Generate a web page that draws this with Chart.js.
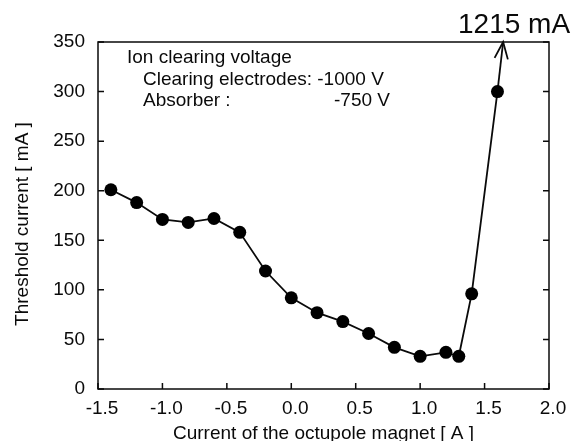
<!DOCTYPE html>
<html>
<head>
<meta charset="utf-8">
<script src="https://cdn.jsdelivr.net/npm/chart.js@4.4.0/dist/chart.umd.min.js"></script>
<style>
html, body { margin: 0; padding: 0; background: #fff; }
canvas { display: block; }
</style>
</head>
<body>
<canvas id="chart" width="576" height="441"></canvas>
<script>
'use strict';

const magnet_current = [-1.4, -1.2, -1.0, -0.8, -0.6, -0.4, -0.2, 0.0, 0.2, 0.4, 0.6, 0.8, 1.0, 1.2, 1.3, 1.4, 1.6];
const threshold_current = [201, 188, 171, 168, 172, 158, 119, 92, 77, 68, 56, 42, 33, 37, 33, 96, 300];
// the next point is off scale (1215 mA), the line leaves through the top of the frame
const arrow_x = [1.6, 1.644];
const arrow_y = [300, 350];
const x_ticks = [-1.5, -1.0, -0.5, 0.0, 0.5, 1.0, 1.5, 2.0];
const y_ticks = [0, 50, 100, 150, 200, 250, 300, 350];
const note_lines = ['Ion clearing voltage', 'Clearing electrodes: -1000 V', 'Absorber :', '-750 V'];
const off_scale_label = '1215 mA';
const x_title = 'Current of the octupole magnet [ A ]';
const y_title = 'Threshold current [ mA ]';

const font_family = "'Liberation Sans', Arial, Helvetica, sans-serif";
const ink = '#0a0a0a';

var frame_plugin = {
    id: 'frame_plugin',
    afterDraw: function(chart){
        const ctx = chart.ctx;
        const area = chart.chartArea;
        const xs = chart.scales.x;
        const ys = chart.scales.y;
        ctx.save();
        ctx.strokeStyle = ink;
        ctx.lineWidth = 1.5;
        ctx.strokeRect(area.left, area.top, area.right - area.left, area.bottom - area.top);

        // inward tick marks
        ctx.beginPath();
        for( let v of x_ticks ){
            const px = xs.getPixelForValue(v);
            ctx.moveTo(px, area.bottom);
            ctx.lineTo(px, area.bottom - 6);
        }
        for( let v of y_ticks ){
            const py = ys.getPixelForValue(v);
            ctx.moveTo(area.left, py);
            ctx.lineTo(area.left + 6, py);
            ctx.moveTo(area.right, py);
            ctx.lineTo(area.right - 6, py);
        }
        ctx.stroke();

        // arrow head on the off-scale line
        const x0 = xs.getPixelForValue(arrow_x[0]), y0 = ys.getPixelForValue(arrow_y[0]);
        const x1 = xs.getPixelForValue(arrow_x[1]), y1 = ys.getPixelForValue(arrow_y[1]);
        const ang = Math.atan2(y1 - y0, x1 - x0);
        const len = 18, spread = 0.38;
        ctx.lineWidth = 1.8;
        ctx.beginPath();
        ctx.moveTo(x1 - len * Math.cos(ang - spread), y1 - len * Math.sin(ang - spread));
        ctx.lineTo(x1, y1);
        ctx.lineTo(x1 - len * Math.cos(ang + spread), y1 - len * Math.sin(ang + spread));
        ctx.stroke();

        // texts
        ctx.fillStyle = ink;
        ctx.textBaseline = 'alphabetic';
        ctx.font = '28px ' + font_family;
        ctx.textAlign = 'left';
        ctx.fillText(off_scale_label, 458, 33);

        ctx.font = '19px ' + font_family;
        ctx.fillText(note_lines[0], 127, 63);
        ctx.fillText(note_lines[1], 143, 85);
        ctx.fillText(note_lines[2], 143, 106);
        ctx.textAlign = 'right';
        ctx.fillText(note_lines[3], 390, 106);

        ctx.textAlign = 'center';
        ctx.fillText(x_title, (area.left + area.right) / 2, 439);

        ctx.translate(28, 224);
        ctx.rotate(-Math.PI / 2);
        ctx.fillText(y_title, 0, 0);
        ctx.restore();
    }
};

const ctx = document.getElementById('chart').getContext('2d');
window.chart = new Chart(ctx, {
    type: 'line',
    data: {
        datasets: [
            {
                data: magnet_current.map((x, i) => ({ x: x, y: threshold_current[i] })),
                borderColor: ink,
                borderWidth: 1.8,
                backgroundColor: '#000',
                pointRadius: 6.5,
                pointBorderWidth: 0,
                pointBackgroundColor: '#000',
                tension: 0,
            },
            {
                data: arrow_x.map((x, i) => ({ x: x, y: arrow_y[i] })),
                borderColor: ink,
                borderWidth: 1.8,
                pointRadius: 0,
                clip: false,
            },
        ],
    },
    options: {
        responsive: false,
        animation: false,
        devicePixelRatio: 1,
        layout: { padding: { left: 0, right: 27, top: 42, bottom: 0 } },
        plugins: {
            legend: { display: false },
            tooltip: { enabled: false },
        },
        scales: {
            x: {
                type: 'linear',
                min: -1.5,
                max: 2.0,
                afterBuildTicks: function(scale){ scale.ticks = x_ticks.map(v => ({ value: v })); },
                afterFit: function(scale){ scale.height = 52; },
                grid: { display: false, drawTicks: false },
                border: { display: false },
                ticks: {
                    padding: 8,
                    labelOffset: 4,
                    color: ink,
                    font: { family: font_family, size: 19 },
                    callback: v => v.toFixed(1),
                },
            },
            y: {
                type: 'linear',
                min: 0,
                max: 350,
                afterBuildTicks: function(scale){ scale.ticks = y_ticks.map(v => ({ value: v })); },
                afterFit: function(scale){ scale.width = 98; },
                grid: { display: false, drawTicks: false },
                border: { display: false },
                ticks: {
                    padding: 13,
                    color: ink,
                    font: { family: font_family, size: 19 },
                },
            },
        },
    },
    plugins: [frame_plugin],
});
</script>
</body>
</html>
